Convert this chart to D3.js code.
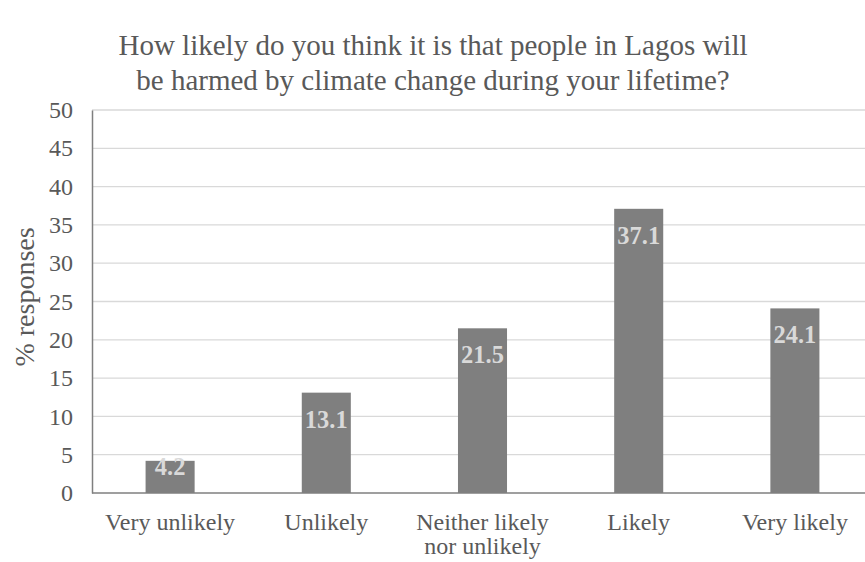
<!DOCTYPE html>
<html>
<head>
<meta charset="utf-8">
<script src="https://cdn.jsdelivr.net/npm/d3@7"></script>
<style>
  body { margin: 0; background: #fff; }
  text { font-family: "Liberation Serif", "Times New Roman", serif; }
</style>
</head>
<body>
<svg id="chart" width="865" height="562"></svg>
<script>
// survey answers
const categories = [
  ['Very unlikely'],
  ['Unlikely'],
  ['Neither likely', 'nor unlikely'],
  ['Likely'],
  ['Very likely']
]
const responses = [4.2, 13.1, 21.5, 37.1, 24.1]
const yTicks = [0, 5, 10, 15, 20, 25, 30, 35, 40, 45, 50]
const titleLines = [
  'How likely do you think it is that people in Lagos will',
  'be harmed by climate change during your lifetime?'
]

const svg = d3.select('#chart')
const plotLeft = 92
const plotRight = 873
const plotTop = 110
const plotBottom = 493

const x = d3.scaleBand()
  .domain(categories.map((d, i) => i))
  .range([plotLeft, plotRight])
  .paddingInner(0.686)
  .paddingOuter(0.343)

const y = d3.scaleLinear()
  .domain([0, 50])
  .range([plotBottom, plotTop])

// title
svg.append('g')
  .selectAll('text')
  .data(titleLines)
  .join('text')
  .attr('x', 433)
  .attr('y', (d, i) => 55 + i * 35)
  .attr('text-anchor', 'middle')
  .attr('fill', '#595959')
  .style('font-size', '29px')
  .text(d => d)

// gridlines
svg.append('g')
  .selectAll('line')
  .data(yTicks.slice(1))
  .join('line')
  .attr('x1', plotLeft)
  .attr('x2', 865)
  .attr('y1', d => y(d))
  .attr('y2', d => y(d))
  .attr('stroke', '#d9d9d9')
  .attr('stroke-width', 1.3)

// y axis
const yAxis = svg.append('g')
  .attr('transform', 'translate(' + plotLeft + ',0)')
  .call(d3.axisLeft(y).tickValues(yTicks).tickSize(0).tickPadding(19))
yAxis.select('.domain').attr('stroke', '#7f7f7f').attr('stroke-width', 1.5)
yAxis.selectAll('text')
  .attr('fill', '#595959')
  .style('font-size', '24px')
  .style('font-family', '"Liberation Serif", serif')

// bars
svg.append('g')
  .selectAll('rect')
  .data(responses)
  .join('rect')
  .attr('x', (d, i) => x(i))
  .attr('width', x.bandwidth())
  .attr('y', d => y(d))
  .attr('height', d => y(0) - y(d))
  .attr('fill', '#7f7f7f')

// x axis line
svg.append('line')
  .attr('x1', plotLeft)
  .attr('x2', 865)
  .attr('y1', y(0))
  .attr('y2', y(0))
  .attr('stroke', '#7f7f7f')
  .attr('stroke-width', 1.5)

// value labels
svg.append('g')
  .selectAll('text')
  .data(responses)
  .join('text')
  .attr('x', (d, i) => x(i) + x.bandwidth() / 2)
  .attr('y', d => Math.min(y(d) + 35, y(0) - 18))
  .attr('text-anchor', 'middle')
  .attr('fill', '#d9d9d9')
  .style('font-size', '24.5px')
  .style('font-weight', 'bold')
  .text(d => d.toFixed(1))

// category labels
const catG = svg.append('g')
categories.forEach((lines, i) => {
  catG.append('text')
    .attr('x', x(i) + x.bandwidth() / 2)
    .attr('y', 530)
    .attr('text-anchor', 'middle')
    .attr('fill', '#595959')
    .style('font-size', '24px')
    .selectAll('tspan')
    .data(lines)
    .join('tspan')
    .attr('x', x(i) + x.bandwidth() / 2)
    .attr('dy', (d, j) => j === 0 ? 0 : 24)
    .text(d => d)
})

// y axis title
svg.append('text')
  .attr('transform', 'translate(34,297) rotate(-90)')
  .attr('text-anchor', 'middle')
  .attr('fill', '#595959')
  .style('font-size', '28px')
  .text('% responses')
</script>
</body>
</html>
